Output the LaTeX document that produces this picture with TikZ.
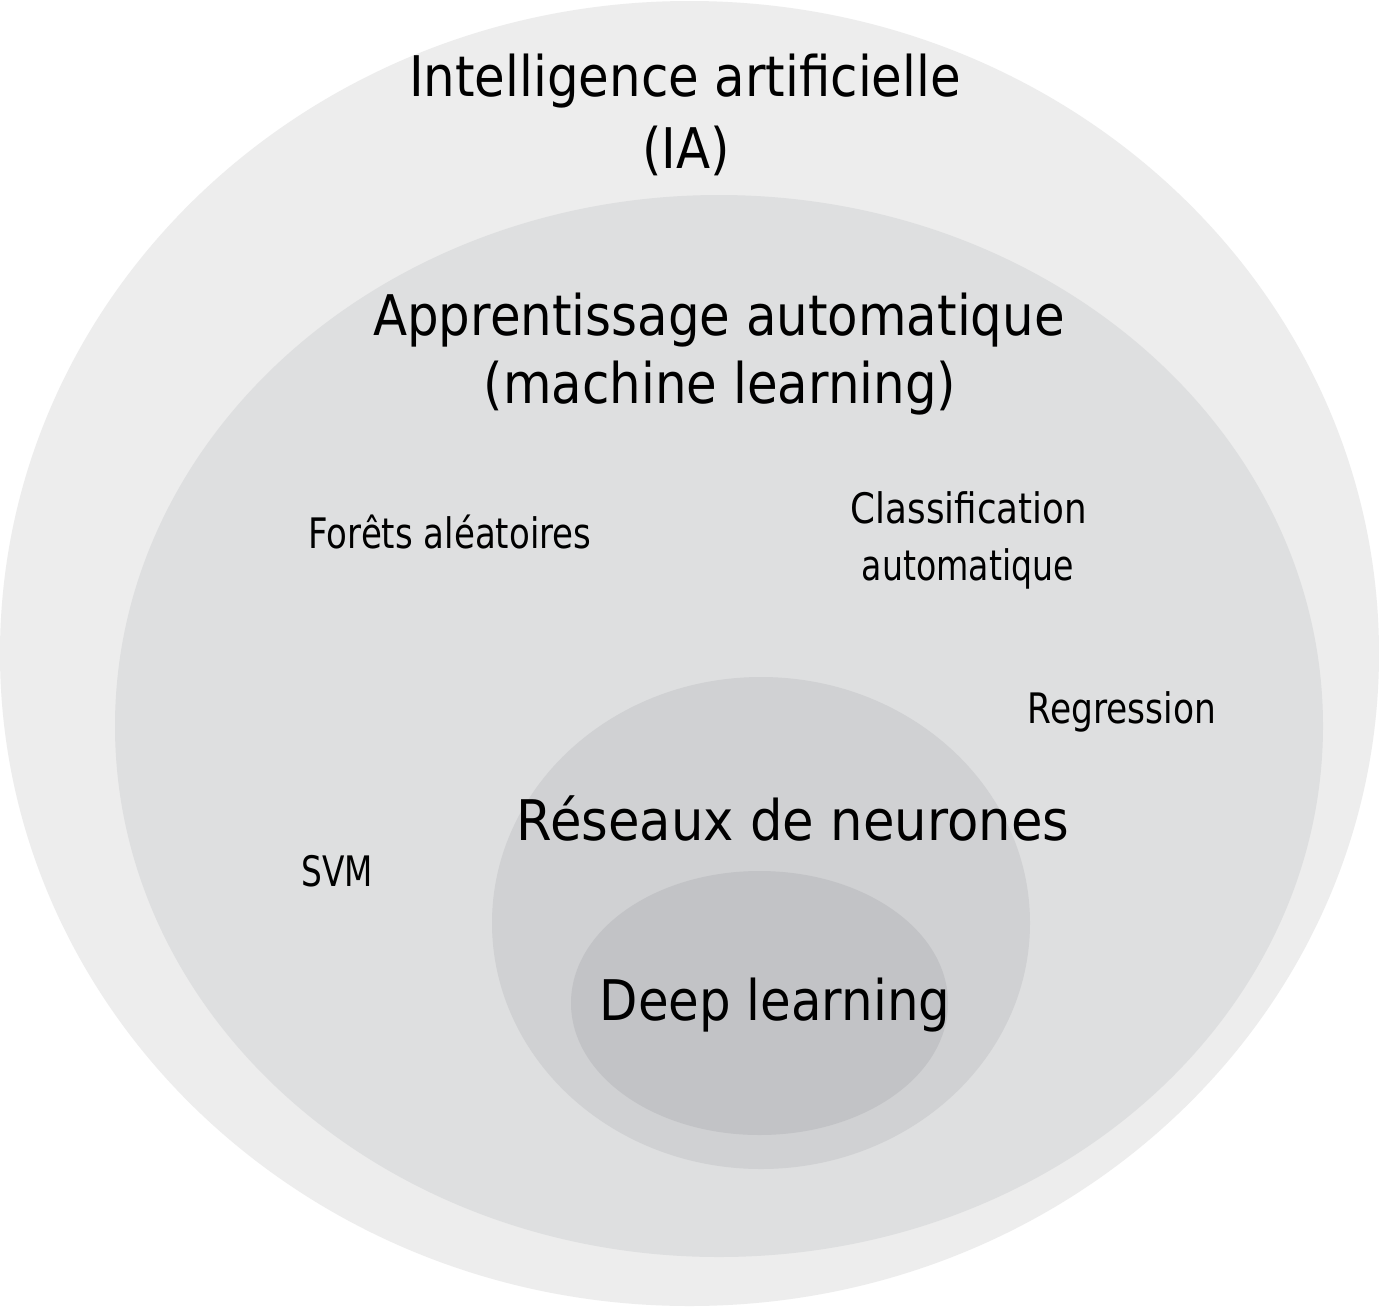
\documentclass[tikz,border=0pt]{standalone}
\usepackage{fontspec}
\usepackage{graphicx}
\setmainfont{DejaVu Sans}
\definecolor{ring1}{HTML}{EDEDED}
\definecolor{ring2}{HTML}{DEDFE0}
\definecolor{ring3}{HTML}{D0D1D3}
\definecolor{ring4}{HTML}{C2C3C6}
\newcommand{\bigtxt}[2][0.89]{\scalebox{#1}[1]{\fontsize{56}{60}\selectfont #2}}
\newcommand{\smalltxt}[2]{\scalebox{#1}[1]{\fontsize{42}{46}\selectfont #2}}
\tikzset{lbl/.style={anchor=base, inner sep=0pt, text=black}}
\begin{document}
\begin{tikzpicture}[x=1pt,y=-1pt]
\useasboundingbox (0,0) rectangle (1379,1307);
\fill[white] (0,0) rectangle (1379,1307);
% nested sets
\fill[ring1] (689.5,653.5) ellipse [x radius=689.5pt, y radius=652.5pt];
\fill[ring2] (719,726) ellipse [x radius=604pt, y radius=531pt];
\fill[ring3] (761,923) ellipse [x radius=269pt, y radius=246pt];
\fill[ring4] (759.5,1003) ellipse [x radius=188.5pt, y radius=132pt];
% labels
\node[lbl] (ia1) at (685,96) {\bigtxt{Intelligence artificielle}};
\node[lbl] (ia2) at (686,168) {\bigtxt{(IA)}};
\node[lbl] (ml1) at (719,335) {\bigtxt{Apprentissage automatique}};
\node[lbl] (ml2) at (720,403) {\bigtxt{(machine learning)}};
\node[lbl] (rf) at (450,548) {\smalltxt{0.81}{Forêts aléatoires}};
\node[lbl] (cl1) at (969,523) {\smalltxt{0.85}{Classification}};
\node[lbl] (cl2) at (968,580) {\smalltxt{0.79}{automatique}};
\node[lbl] (reg) at (1122,723) {\smalltxt{0.82}{Regression}};
\node[lbl] (svm) at (337,886) {\smalltxt{0.78}{SVM}};
\node[lbl] (nn) at (793,840) {\bigtxt[0.915]{Réseaux de neurones}};
\node[lbl] (dl) at (775,1020) {\bigtxt{Deep learning}};
\end{tikzpicture}
\end{document}
